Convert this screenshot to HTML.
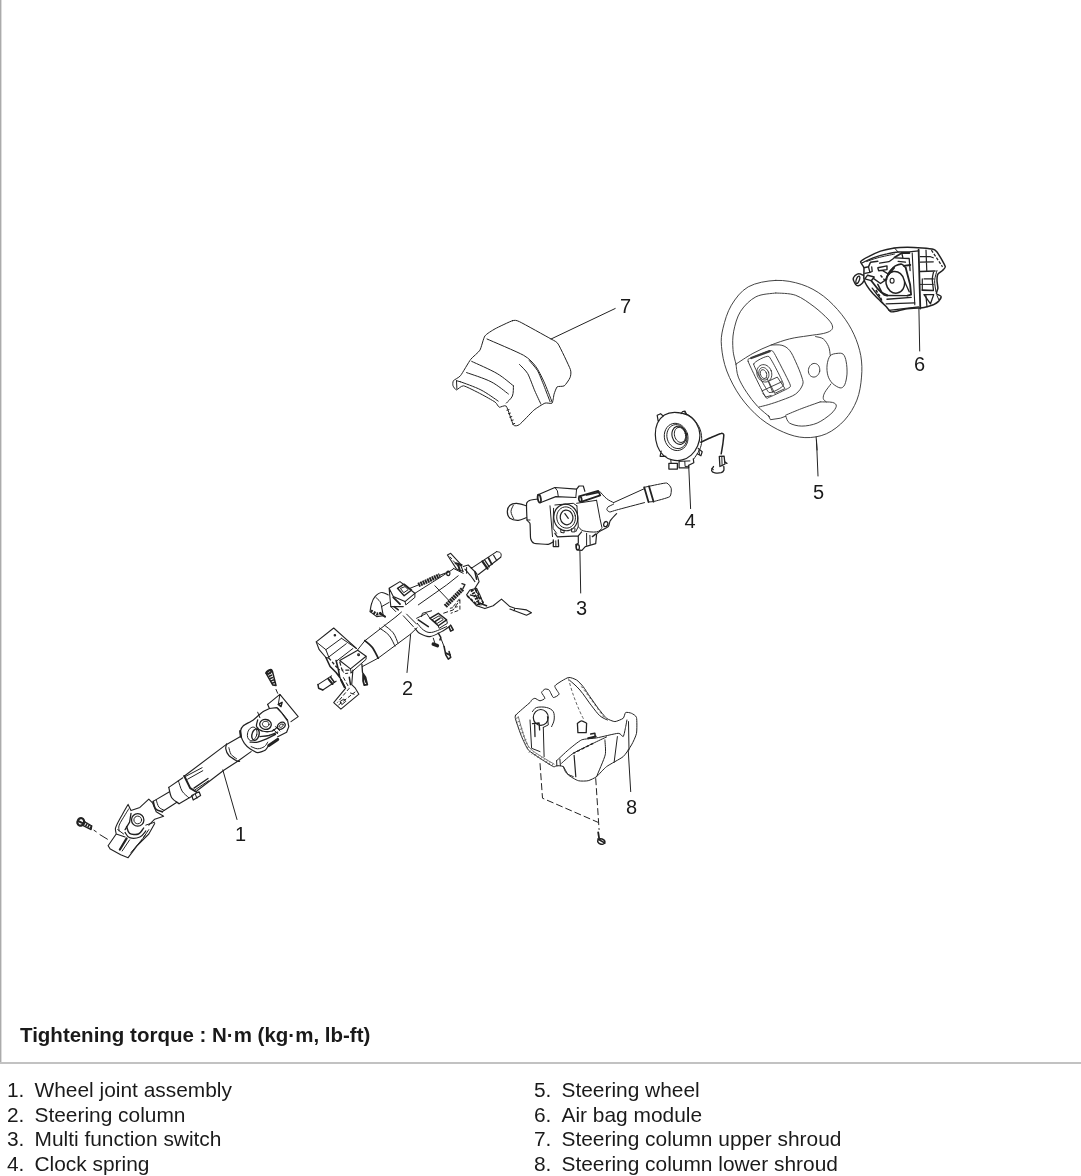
<!DOCTYPE html>
<html lang="en">
<head>
<meta charset="utf-8">
<title>Steering column components</title>
<style>
html,body{margin:0;padding:0;background:#fff;}
body{width:1081px;height:1176px;position:relative;overflow:hidden;font-family:"Liberation Sans",sans-serif;color:#1a1a1a;}
#frame{position:absolute;left:0;top:0;width:2px;height:1064px;background:linear-gradient(to right,#ababab 0,#ababab 1px,#dcdcdc 1px,#dcdcdc 2px);}
#rule{position:absolute;left:0;top:1062px;width:1081px;height:2px;background:#c2c2c2;}
#diagram{position:absolute;left:0;top:0;width:1081px;height:1062px;will-change:transform;opacity:.999;}
#diagram text{font-family:"Liberation Sans",sans-serif;fill:#1a1a1a;}
#torque{will-change:transform;opacity:.999;position:absolute;left:20.3px;top:1022.6px;font-size:20.5px;font-weight:bold;white-space:nowrap;line-height:24px;}
.col{will-change:transform;opacity:.999;position:absolute;top:1078px;font-size:20.9px;line-height:24.7px;white-space:nowrap;}
.col div{height:24.7px;}
.col span{display:inline-block;width:27.5px;}
#c1{left:6.5px;}
#c2{left:534.4px;}
</style>
</head>
<body>
<div id="frame"></div>
<svg id="diagram" width="1081" height="1062" viewBox="0 0 1081 1062" fill="none" stroke-linecap="round" stroke-linejoin="round">
<path stroke="#3a3a3a" stroke-width="0.95" fill="none" d="M775.8 280.4C766.9 280.8 755.7 282.7 748.3 286.8C740.9 291 735.6 298.3 731.4 305.2C727.2 312.1 724.7 321.3 723 328.2C721.4 335.1 720.8 339.4 721.5 346.5C722.1 353.7 723.6 362.6 726.8 371C730 379.4 735 389.1 740.6 397C746.2 404.9 753.4 412.6 760.5 418.5C767.7 424.3 776.1 429.1 783.5 432.2C790.9 435.4 797.8 437.3 804.9 437.6C812 437.9 819.7 436.7 826.3 433.8C833 430.8 839.6 425.6 844.7 420C849.8 414.4 854.1 407.2 856.9 400.1C859.7 393 860.9 384.5 861.5 377.1C862.2 369.7 862 362.9 860.8 355.7C859.5 348.6 857.1 341.2 853.9 334.3C850.7 327.4 846.7 320.8 841.6 314.4C836.5 308 829.9 301 823.3 296C816.6 291 809.7 287.1 801.8 284.5C793.9 281.9 784.7 280 775.8 280.4ZM775.8 293C772.5 293.6 761.8 293.7 755.9 296.8C750.1 299.8 744.3 305.6 740.6 311.3C736.9 317.1 735 324.8 733.7 331.2C732.4 337.6 732.6 344.1 733 349.6C733.3 355.1 735.5 361.7 736 364.1M775.8 293C779.1 293.3 789.3 293 795.7 295.3C802.1 297.6 808.7 302.8 814.1 306.7C819.4 310.7 824.8 315.8 827.9 319C830.9 322.2 831.9 324 832.4 325.9C833 327.8 832.4 329.2 830.9 330.5C829.4 331.7 827.1 332.6 823.3 333.5C819.4 334.4 813.6 334.9 808 335.8C802.3 336.7 795.7 337.3 789.6 338.9C783.5 340.4 777.3 342.6 771.2 345C765.1 347.4 758.7 350.2 752.9 353.4C747 356.6 738.8 362.3 736 364.1M736 364.1C736.4 366.3 736.5 372.4 738.3 377.1C740.1 381.9 743.5 387.6 746.7 392.4C749.9 397.3 753.6 402.1 757.4 406.2C761.3 410.3 767.7 415.2 769.7 416.9M768.2 415.4L770.5 419.7L780.4 418.2L785.8 416.2M785.8 416.2C786.4 417.3 786.9 421.4 789.6 423.1C792.3 424.7 797.2 426.1 801.8 426.1C806.4 426.1 812.3 425.1 817.1 423.1C822 421 827.7 416.7 830.9 413.9C834.1 411.1 836 408.1 836.3 406.2C836.5 404.3 835.1 403.1 832.4 402.4C829.8 401.7 822.2 402 820.2 401.9M785.8 415.1C788.4 414 796.1 410.7 801.8 408.5C807.6 406.3 817.1 403 820.2 401.9M771.2 345C773 345.1 778.9 344.4 781.9 345.3C785 346.2 787.3 347.6 789.6 350.4C791.9 353.1 793.7 357.4 795.7 361.8C797.8 366.3 800.7 373.3 801.8 377.1C803 381 803.6 382 802.6 384.8C801.6 387.6 799.2 391.4 795.7 394C792.3 396.5 786.5 398.3 781.9 400.1C777.3 401.9 772 403.5 768.2 404.7C764.3 405.8 760.5 406.6 759 407M815.6 336.6C816.9 337 821.1 337.2 823.3 338.9C825.4 340.5 827.5 343.9 828.6 346.5C829.8 349.2 829.9 353.5 830.2 354.9M830.2 355.7C831.8 353.8 834.9 353.7 837 353.4C839.2 353.2 841.6 352.8 843.2 354.2C844.7 355.6 845.6 358.5 846.2 361.8C846.9 365.2 847.2 370.3 847 374.1C846.7 377.9 845.8 382.5 844.7 384.8C843.5 387.1 842.1 388.1 840.1 387.9C838.1 387.6 834.5 385.3 832.4 383.3C830.4 381.2 828.8 378.7 827.9 375.6C827 372.6 826.7 368.2 827.1 364.9C827.5 361.6 828.5 357.6 830.2 355.7ZM830.9 384C829.9 385.4 826.1 390 824.8 392.4C823.5 394.9 823 397 823.3 398.6C823.5 400.2 825.8 401.4 826.3 401.9M819.7 371.2C819 375 816 377.6 812.9 377C809.8 376.5 807.8 373 808.5 369.3C809.2 365.5 812.2 362.9 815.3 363.5C818.4 364 820.3 367.5 819.7 371.2ZM748.3 361.8C746.9 358 749.2 359.1 751.3 358C753.5 356.9 767.4 351.3 769.7 350.8C772 350.4 772.3 350.2 774.3 353.4C776.3 356.7 788.1 379.8 789.6 383.3C791 386.7 790.8 386.5 788.8 387.9C786.8 389.2 772.1 396.2 769.7 397C767.3 397.9 767.2 399.8 765.1 396.3C763 392.8 749.6 365.7 748.3 361.8ZM753.6 364.1C753.6 361.7 766.9 355.1 768.9 356.5C770.9 357.9 783.5 382.4 783.5 384.8C783.5 387.2 770.9 393.8 768.9 392.4C766.9 391.1 753.6 366.5 753.6 364.1ZM771.2 370.8C772.9 375.4 771.2 380.3 767.4 381.7C763.6 383 759.1 380.4 757.4 375.8C755.8 371.2 757.5 366.4 761.3 365C765.1 363.6 769.6 366.2 771.2 370.8ZM768.5 372.1C769.7 375.4 768.6 378.9 766.1 379.8C763.5 380.7 760.5 378.8 759.3 375.5C758.1 372.1 759.1 368.7 761.7 367.7C764.2 366.8 767.3 368.8 768.5 372.1ZM766.4 373C767.3 375.4 766.7 377.8 765.1 378.4C763.6 379 761.6 377.5 760.7 375.1C759.8 372.7 760.4 370.3 762 369.8C763.6 369.2 765.6 370.7 766.4 373ZM768.9 381L777.3 377.1L785 388.6L775.1 393.2ZM766.6 377.1L772.8 392.4M762 390.9L781.9 381.7M762.8 393.2L765.9 397L771.2 395.5"/>
<path stroke="#3a3a3a" stroke-width="2.2" fill="none" d="M751.3 358L769.7 351.1"/>
<path stroke="#222" stroke-width="1.0" fill="none" d="M816.1 436.8L817.1 450M816.5 440L818 476M866.7 261.5C868.5 260.8 873.1 259 877.8 257.8C882.4 256.5 891.6 254.7 894.4 254.1M894.4 247.9L898.1 252M937 270.5C936.6 272.2 934.8 277.2 934.6 280.7C934.5 284.2 935.8 290 936 291.8M937 295.5L939 300.1M920.3 284.4L933.3 284.4M918.9 308.5L919.7 351M512.4 320.7C514.7 320.1 516 320 519.5 321.7C523.1 323.4 547.5 337 551.1 339C554.6 341.1 556.4 341.3 558.2 344.1C560 346.9 569.3 366.5 570.4 369.5C571.5 372.6 570.6 376.2 570 377.7C569.5 379.2 565.5 385 564.3 385.8C563.1 386.7 558.1 386.1 557.2 386.8C556.3 387.6 554.6 392.5 554.1 394C553.7 395.5 552.9 402.3 552.1 403.1C551.3 404 546.7 402.5 545 403.1C543.3 403.8 536.1 408.3 533.8 410.2C531.5 412.2 521.4 423.2 519.5 424.5C517.7 425.8 514.7 426.6 513.4 424.9C512.2 423.2 507.6 407.8 506.3 406.2C505 404.6 500.2 407.6 499.2 407.2C498.2 406.8 496.8 403.3 495.1 402.1C493.4 400.9 483.8 395.5 480.9 394C478 392.5 465.8 386.2 463.6 385.8C461.3 385.5 457.4 389.9 456.5 389.9C455.5 389.9 453.3 386.7 453 385.8C452.7 385 452.7 381.7 453.4 380.7C454.1 379.8 458.9 377.6 460.5 375.7C462.1 373.7 468.9 361.7 470.7 359.4C472.5 357 478.6 352.4 479.9 350.2C481.2 348.1 483.5 337.9 484.9 336C486.3 334 492.6 330.2 495.1 328.8C497.6 327.4 510.2 321.4 512.4 320.7ZM487 339C491.3 340.9 517.9 352.1 523.6 355.3C529.3 358.5 533.5 363.4 535.8 366.5C538.2 369.6 542.1 377.6 544 381.8C545.9 385.9 551.2 399.7 552.1 402.1M519.5 364.5C520.5 365.5 525.9 370.5 527.7 373.6C529.5 376.7 533.3 387.4 534.8 390.9C536.4 394.5 540.2 402.6 540.9 404.1M529.3 360.6C530.3 361.8 535.7 367.6 537.5 370.6C539.2 373.5 542.5 382.2 544 385.8C545.4 389.5 549.4 399.9 550.1 401.7M471.7 361.4C476 363.4 490.2 369.5 497.2 373.6C504.1 377.7 510.7 383.8 513.4 385.8M466.6 372.6C470.7 374.1 484.1 378.2 491.1 381.8C498 385.3 505.5 391.9 508.4 394M513.4 385.8C513.3 387.5 513.6 393.1 512.4 396C511.2 398.9 507.3 401.9 506.3 403.1M460.5 381.8C463.9 383.1 474.6 386.7 480.9 389.9C487.2 393.1 495.3 399.2 498.2 401.1M456.5 380.7L456.9 388.9M456.5 380.7L460.5 381.8M506.9 410.2L509 409.6M508.4 413.7L510.4 413.1M509.8 417.2L511.8 416.6M511.2 420.6L513.2 420M512.6 424.1L514.7 423.5M551.1 339L615.2 308.5M684.8 412.7C686.3 413.8 691.2 416.5 693.8 419.3C696.3 422.1 698.8 425.9 700.2 429.5C701.5 433.2 701.8 437.6 701.7 441C701.6 444.4 700.8 447 699.5 449.9C698.2 452.9 694.7 457.4 693.8 458.9M687.5 433.9C689.5 441.3 686 448.6 679.7 450.2C673.5 451.9 666.8 447.3 664.8 440C662.9 432.6 666.3 425.3 672.6 423.6C678.9 422 685.5 426.6 687.5 433.9ZM686.5 434C688.3 440.4 685.4 446.8 680.1 448.3C674.8 449.7 669.1 445.6 667.3 439.1C665.6 432.7 668.5 426.3 673.8 424.9C679.1 423.4 684.8 427.5 686.5 434ZM685.3 433.5C686.4 437.6 684.9 441.5 682 442.3C679.1 443.1 675.8 440.4 674.7 436.3C673.6 432.2 675.1 428.3 678 427.5C680.9 426.7 684.2 429.4 685.3 433.5ZM698.9 449.9L699.5 454.4M670.8 459.9L671.1 463.3M679.1 461.4L689.9 460.9M684.8 461.4L685.1 466.5L688 466.3M721.8 456.3L722.1 465.9M711.6 468.4L713.5 469.7M688.7 465.3L690.6 508.6M513.3 505.3C512.9 506.4 510.9 509.4 511 511.6C511 513.8 513.2 517.5 513.7 518.6M550 505.8L552.5 536.6M526.6 520L530 520M554.9 487.5L557.4 490.8L558.3 496.6M576.6 489.1L575.8 497.5M575.3 515.8C576.3 521.6 573 527.1 568 528C562.9 528.8 557.9 524.9 556.9 519.1C555.9 513.3 559.2 507.9 564.3 507C569.3 506.1 574.3 510 575.3 515.8ZM554.9 505L573.3 503.3L576.9 505.8M553.6 508.3L553 528.3L556.6 533.3M576.9 505.8L578.3 526.6L575.8 531.6M560.8 529.1L560.8 532.4L564.1 532.9L564.1 530.3M571.6 528.6L571.6 531.9L574.9 531.9L574.9 528.3M576.6 503.3L596.6 500.3M599.9 491.6C601 492.8 604.3 496.8 606.6 498.6C608.8 500.5 612.4 502 613.6 502.6M596.6 500.3L599.9 518.3L601.9 527.4M578.3 526.6C579.1 527.3 580.2 529.9 583.3 530.8C586.3 531.7 593.5 532.4 596.6 531.9C599.7 531.5 601 528.9 601.9 528.3M613.6 502.6L644.5 488.6M644.5 502.6C642.2 503.2 619.4 509.2 616.6 510C613.7 510.7 610.7 512 609.9 512C609.1 512 607.1 510.4 606.9 510C606.7 509.5 607.3 507.5 607.9 507C608.5 506.5 613.1 504.4 613.6 504.1M644.2 487.3L649 486.3M648.5 502L653.5 501.6M649 486.3C650.5 486 664.7 482.8 666.5 483C668.4 483.2 670.9 487.2 671.2 488.3C671.5 489.5 671.3 495.5 669.8 496.6C668.4 497.8 654.9 501.2 653.5 501.6M586.6 533.3L586.6 545.3M589.9 535.3L590.2 544.3M555.8 540.8L555.9 546.3M579.9 550.3L580.7 593M515.8 715C517.1 713.4 528.5 703.8 530 702.5C531.4 701.1 531.2 700.4 531.6 700C532.1 699.6 534.2 698.2 535 698.3C535.7 698.4 539 700.8 540 700.8C540.9 700.8 544.8 699.1 544.9 698.3C545.1 697.5 541.6 693.3 541.6 692.5C541.6 691.6 544.3 689.4 544.9 689.1C545.6 688.9 548.3 689.2 549.1 690C549.9 690.7 552.4 697.1 553.3 697.5C554.2 697.9 559 695.2 559.1 694.1C559.3 693.1 554.1 687.3 554.9 685.8C555.8 684.3 566.3 678 568.3 677.5C570.2 677 575.2 679.2 576.6 680C578 680.8 582 685.1 583.2 686.7C584.5 688.2 588.5 694.7 589.9 696.6C591.3 698.6 596.7 706.3 598.2 708.3C599.8 710.3 605 717.1 606.6 718.3C608.1 719.5 613.4 721.6 614.9 721.6C616.4 721.6 622.2 719.1 623.2 718.3C624.2 717.4 624.9 712.9 625.7 712.5C626.5 712 630.5 712.8 631.5 713.3C632.5 713.8 636.1 715.6 636.5 717.5C637 719.3 637 730.8 636.5 733.3C636.1 735.8 632.8 742.8 631.5 744.9C630.3 747.1 625.5 754.6 623.2 756.6C620.9 758.6 609 764.7 606.6 766.6C604.1 768.4 598.2 775.3 596.6 776.6C594.9 777.9 589.9 780.3 588.2 780.7C586.6 781.1 580.1 781.3 578.3 780.7C576.4 780.2 569.6 776.2 568.3 774.9C566.9 773.6 564.3 767.4 563.3 766.6C562.2 765.7 557.5 765.7 556.6 765.7C555.7 765.7 554.8 767.3 553.3 766.6C551.7 765.9 542.2 759.8 540 758.3C537.7 756.7 530 751.9 528.3 749.9C526.6 747.9 522.8 739.4 521.6 736.6C520.5 733.9 516.3 721.9 515.8 720C515.3 718 514.5 716.6 515.8 715ZM569.6 680.3C571.3 681.9 576.3 685.7 579.9 690C583.6 694.2 588.2 701.5 591.6 705.8C594.9 710.1 597.3 713.4 599.9 715.8C602.5 718.1 606.1 719.3 607.4 720M556.6 760.7C557.8 759.7 565.8 752 568.3 749.9C570.8 747.8 578.8 741.1 581.6 739.9C584.4 738.7 592.9 738.6 596.6 737.9C600.2 737.3 615.6 733.4 618.2 733.3C620.9 733.1 622.5 737.3 623.2 736.6C624 735.9 625.3 728.3 625.7 726.6C626.1 724.9 626.8 720.6 626.9 720M561.6 763.2C562.8 762.2 570.1 755.3 573.3 753.3C576.4 751.3 589.9 744.9 593.2 743.3C596.6 741.6 605.2 737.6 606.6 736.9M556.6 760.7L556.9 766.2M559.9 759.1L560.4 765.7M563.3 766.6C563.8 767.7 564.9 771.6 566.6 773.2C568.3 774.9 572.1 776 573.3 776.6M604.9 739.9C604.9 741.4 606.1 751.3 605.2 754.9C604.4 758.6 597.4 774.4 596.6 776.6M617.4 736.6L614.1 762.4M628.5 721.6L629 749.9M532.5 711.6C533.2 710.9 534.3 708.2 536.6 707.5C539 706.8 543.8 706.8 546.6 707.5C549.4 708.2 552 709.5 553.3 711.6C554.5 713.7 554.4 717.5 554.1 720C553.8 722.5 552 725.5 551.6 726.6M530 720L531.6 748.3L540 751.6M543.3 727.4L544.1 756.6M547.4 716.6L548.3 724.9L543.3 727.4M628.2 749.9L630.7 791.6M325.9 649.7L341.5 638.3M316.2 641.9L325.9 649.7L328.9 657.5M328.9 656.9L346.3 643.7M337.3 660.5L352.9 648.5M341.5 638.3L356.5 648.5M350.5 668.9L351.1 672.5L366.1 659.3L366.1 656.3M357.7 649.7L364.9 640.7L396.2 616.6M362.5 666.5L378.2 658.1L410.6 634.1M379.4 628C381 629.2 386.4 632.2 389 635.3C391.6 638.3 394 644.3 395 646.1M384.2 625C385.7 626.3 390.9 629.8 393.2 632.8C395.5 635.9 397.2 641.4 398 643.1M340.3 701.4L343.9 699L345.7 701.4L342.1 704.4ZM350.5 693L354.1 694.2M410.6 634.7L407 672.5M496.7 551.6C497.3 551.8 499.5 552 500.2 552.6C501 553.2 501.2 554.4 501.2 555.2C501.3 555.9 500.8 556.9 500.7 557.2M466.6 567.5L466.6 573.3M453.2 568.3L463.2 573.3M514.9 608.3L514 610.8M410 588.3L418.3 585M414.9 593.3L453.2 569.1M434.9 585.8L448.3 599.9M418.3 604.9L446.6 585L458.2 575.8M381.6 606.6L389.1 602.4M375.8 597.4C376.5 598.1 379 600.1 380 601.6C381 603.1 381.4 605.8 381.6 606.6M390.8 606.6L395.8 611.6M400.8 588.3L405 586.6L408.3 589.6L404.1 592.5ZM405 601.6L405.8 604.9L414.9 597.4L414.9 593.3M396.2 616.6L401.5 612M410.6 634L417.2 627.7M403.3 615.8L413.3 626.6M406.6 614.1L416.6 624.1M417.4 623.3C418.4 624.4 420.9 628.4 423.3 629.9C425.6 631.4 427.7 633 431.6 632.4C435.5 631.9 444.1 627.6 446.6 626.6M416.6 618.3L426.6 613.3L429.9 618.3M421.6 616.6L422.4 613.3L431.6 610.8M432.4 619.6L439.1 615.8L443.3 619.6L437.4 623.3ZM438.3 625.8L439.1 628.3L447.4 623.3L446.6 619.9M433.3 638.2L434.9 643.2M440.8 638.2L444.1 646.6M276 689.4L277.7 693.3M279.9 694.4L278.3 704.4M277.7 707.7L287.7 719.9M269 724.7C268.7 726.3 267 727.3 265.2 727C263.4 726.7 262.2 725.2 262.4 723.6C262.7 722 264.4 721 266.2 721.3C268 721.6 269.3 723.2 269 724.7ZM283.1 724.4C283.5 725 283 726.1 282 726.8C281 727.5 279.9 727.6 279.4 727C279 726.4 279.5 725.3 280.5 724.6C281.5 723.9 282.7 723.8 283.1 724.4ZM256.7 735C255.7 738.7 252.9 741.1 250.4 740.5C247.9 739.8 246.7 736.3 247.7 732.6C248.7 728.9 251.5 726.5 254 727.2C256.4 727.8 257.7 731.4 256.7 735ZM251.1 746.6C252.2 747 255.5 748.8 257.7 748.8C259.9 748.8 262.7 747.7 264.4 746.6C266 745.5 267.2 742.9 267.7 742.1M275.5 726.6L279.9 731M273.3 729.4L277.7 733.8M257.7 712.2L259.9 717.7M228.9 747.7C229.2 748.8 229.8 752.5 231.1 754.4C232.4 756.2 235.7 758.1 236.6 758.8M222.8 769.9L237 819.5M94 830.3L96.3 831.8M100 834.7L107.4 839.2M122.2 851L129.6 839.9M131 852.5L142.9 838.4L148.8 829.6M119.2 831C119.2 830.1 118.2 827.8 119.2 825.1C120.2 822.4 123.5 817.5 125.1 814.8C126.7 812.1 128.2 809.8 128.8 808.8M117.7 829.6L123.6 834M141.6 819.9C141.6 822.1 139.8 823.8 137.7 823.8C135.6 823.8 133.9 822.1 133.9 819.9C133.9 817.8 135.6 816.1 137.7 816.1C139.8 816.1 141.6 817.8 141.6 819.9ZM145.8 825.1L154.7 822.2M156.2 800C156.7 801.1 157.5 805.3 158.9 807.1C160.2 808.8 163.4 809.8 164.3 810.3M178.4 780.7C179 782.4 180.4 788.2 182.1 791.1C183.8 793.9 187.7 796.6 188.8 797.7M185.8 776.3L202.1 767.7M187.6 779.2L202.8 770.7M195.4 789.6L208.8 780.7M195.4 794.3L196.9 798.2"/>
<path stroke="#222" stroke-width="1.5" fill="none" d="M860.6 261.7C861.1 260.6 866.5 257.7 868.5 256.7C870.5 255.6 877.9 252 880.5 251.1C883.1 250.2 891.7 248.3 894.4 247.9C897.1 247.5 904.6 247.2 907.4 247.2C910.1 247.2 919.6 247.7 922.2 247.9C924.7 248.1 931.8 248.8 933.3 249.3C934.7 249.7 936.1 251 937 252C937.8 253 940.7 257.9 941.6 259.4C942.4 260.9 945.2 265.7 945.3 266.8C945.4 267.9 943.2 269.8 942.5 270.5C941.8 271.3 938.4 273.2 937.9 274.2C937.3 275.2 937 279.3 937 280.7C937 282.1 937.9 286.8 937.9 288.1C937.8 289.4 936.2 292.8 936.5 293.7C936.8 294.5 940.9 295.7 941.1 296.4C941.4 297.2 939.6 300.2 938.8 301.1C938 301.9 934.7 304.1 933.3 304.8C931.8 305.4 925.5 307.2 924 307.5C922.5 307.9 920.3 307.9 918.5 308C916.6 308.1 907.7 308.6 905.5 308.9C903.3 309.2 897.7 311 896.3 311.2C894.8 311.5 891.7 312.2 890.7 311.7C889.7 311.2 887.1 307.7 886.1 306.6C885.1 305.5 881.8 302.3 880.5 301.1C879.2 299.8 874.5 295.2 873.1 293.7C871.7 292.1 867.6 286.8 866.7 285.3C865.7 283.8 864.2 280.6 863.9 278.9C863.6 277.1 864.2 269.5 863.9 267.8C863.6 266 860.2 262.8 860.6 261.7ZM904.4 280.8C905.5 286.7 902.3 292.2 897.2 293.1C892.2 294 887.3 289.9 886.2 284C885.2 278 888.4 272.5 893.4 271.6C898.5 270.7 903.4 274.8 904.4 280.8ZM863.9 267.8L868.5 266.8L870.5 262.2L877.8 261.3M877.8 284.4L881.6 291.8M863.9 275.6C863.3 275.4 860.2 273.8 859.3 273.8C858.3 273.7 856.3 274.6 855.6 275.2C854.8 275.7 853.2 277.8 853.2 278.9C853.2 279.9 855 283.6 855.6 284.4C856.1 285.2 857.6 285.9 858.3 285.8C859.1 285.7 861.4 284.1 862 283.5C862.7 282.9 863.7 281 863.9 280.7M700.8 442.3C701.9 441.8 709.6 438.1 711.6 437.2C713.7 436.3 720 433.6 721.2 433.4C722.4 433.1 723.6 433.9 723.8 434.9C723.9 435.9 723.1 441.7 722.9 443.6C722.6 445.5 721.4 452.8 721.2 453.8M586.6 495L598.2 492.5M590.7 734.1L594.9 733.3L595.2 736.6M604.7 842.8C604.2 844.1 602.2 844.7 600.3 844C598.4 843.3 597.3 841.6 597.8 840.3C598.3 838.9 600.2 838.3 602.1 839C604 839.7 605.2 841.4 604.7 842.8ZM597.9 839L604.9 843.2M318 684.6L318.6 688.2L322.8 690M330.7 677.3L334.3 682.2M349.3 677.3L350.5 684.6M394.1 606.6L398.3 609.9M434.9 621.6L439.9 618.3M438.3 633.2L440.8 637.4L439.9 639.9M266 673.1L269.9 670.2L272.4 671.3L276 685.5L272.7 684.9ZM278.3 704.4L282.1 702.4L281 706.6Z"/>
<path stroke="#222" stroke-width="1.3" fill="none" d="M862 262.9C863.9 262.1 869 259.3 873.1 257.8C877.3 256.3 882.8 254.8 887 253.9C891.2 252.9 894.4 252.4 898.1 252C901.8 251.7 907.4 251.9 909.2 251.8M909.2 251.8L918.6 250.9M920.3 271.5L935.1 271M933.7 271.5C933.5 272.7 932.4 275.8 932.3 278.9C932.3 281.9 933.3 288.1 933.4 290M924 294.6L933.7 294.6L930.5 303.8ZM901.8 253L902.9 257.8M895.3 257.8L909.2 258.5L910.1 270.5M898.1 261.3L905.5 262.2M904.6 281.6L909.2 291.8M887 295.5L907.4 295.7M868.5 266.8L869.9 272.4L872.2 271.5L871.7 266.8M879.6 263.1L888.9 261.7L893.5 258.5M872.2 288.1L877.8 295.5L881.5 300.1M859.3 280.3C858.6 282.3 857.4 283.7 856.5 283.4C855.7 283.1 855.7 281.3 856.4 279.2C857.1 277.2 858.4 275.8 859.2 276.1C860 276.4 860.1 278.3 859.3 280.3ZM668.9 463.3L677.4 463.3L677.4 469.1L668.9 469.1ZM719.3 456.3L724.1 456.1L725 464L719.9 466.5ZM723.8 466.5C723.8 467.2 724.2 469.3 723.8 470.4C723.3 471.4 722.7 472.2 721.2 472.7C719.7 473.1 716.4 473.2 714.8 472.9C713.2 472.6 711.8 471.7 711.6 470.6C711.4 469.5 713.2 467.2 713.5 466.5M607.6 524.8C607.1 526.2 605.9 527 604.8 526.6C603.8 526.2 603.4 524.8 603.9 523.4C604.4 522.1 605.6 521.2 606.6 521.6C607.7 522 608.1 523.4 607.6 524.8ZM553.3 539.9L553.3 546.6L558.6 546.6L558.3 539.9M579.4 547.3C579.4 548.7 578.7 549.9 577.8 549.9C576.8 549.9 576.1 548.7 576.1 547.3C576.1 545.8 576.8 544.6 577.8 544.6C578.7 544.6 579.4 545.8 579.4 547.3ZM534.6 723.3L535 736.6M532.5 723.6L539.1 723L539.6 729.9M577.4 723.3L577.9 732.6L586.2 732.6L586.6 723.3M577.4 723.3C578.1 722.9 580.1 720.8 581.6 720.8C583.1 720.8 585.7 722.9 586.6 723.3M361.9 664.1L362.5 672.5M484.7 560.1L489.3 566.9M462.9 588.6L464.9 584.6L461.9 583.6M271.2 725.4C270.7 728.1 267.8 729.9 264.6 729.3C261.5 728.8 259.3 726.1 259.8 723.4C260.3 720.7 263.2 718.9 266.4 719.5C269.5 720 271.7 722.7 271.2 725.4ZM284.7 723.3C285.7 724.7 284.9 726.9 283 728.3C281.1 729.6 278.8 729.5 277.8 728.1C276.8 726.7 277.6 724.5 279.5 723.2C281.4 721.8 283.7 721.9 284.7 723.3ZM257.7 719.9C257.5 721.1 255.9 724.8 256.6 726.6C257.4 728.5 259.6 730.3 262.2 731C264.8 731.8 269.6 731.8 272.2 731C274.7 730.3 276.8 727.3 277.7 726.6M259.9 736.6C261.4 736.4 265.9 736.2 268.8 735.5C271.8 734.7 276.2 732.7 277.7 732.2M250 742.1C251.2 742.1 254.9 742.7 257.7 742.1C260.5 741.6 263.6 740.1 266.6 738.8C269.6 737.5 274 735.1 275.5 734.4M143.9 819.9C143.9 823.4 141.1 826.2 137.7 826.2C134.3 826.2 131.5 823.4 131.5 819.9C131.5 816.5 134.3 813.7 137.7 813.7C141.1 813.7 143.9 816.5 143.9 819.9ZM131 813.3L129.6 822.2L125.1 829.6M194 788.1L208 778.5"/>
<path stroke="#222" stroke-width="1.1" fill="none" d="M912.2 253L914.8 304.8M894.1 280.7C894.1 282 893.2 283.1 892.1 283.1C891 283.1 890.1 282 890.1 280.7C890.1 279.4 891 278.3 892.1 278.3C893.2 278.3 894.1 279.4 894.1 280.7ZM685.9 433.5C687.2 438.4 685.2 443.1 681.5 444.2C677.7 445.2 673.6 442 672.3 437.1C671 432.2 673 427.4 676.7 426.4C680.5 425.4 684.6 428.6 685.9 433.5ZM316.2 641.9L333.7 628L356.5 648.5M316.2 641.9L319.2 649.7L325.9 657.5L328.9 658.1M339.7 660.5L357.7 650.3L366.1 656.3L350.5 668.9ZM318 684.6L331.5 675.9M322.8 690L336.1 681.2M339.7 677.3L345.7 688.2L333.7 702.6L340.9 709.2L358.9 694.2L355.3 688.2L351.7 684.6L352.9 670.1M471.2 568.4L496.7 551.6M478.4 574.5L500.7 557.2M447.4 555L450.7 553.3L459.9 563.3L463.2 571.6L456.6 569.1ZM463.2 566.6L468.2 565L476.6 573.3L479.1 581.6L474.9 588.3M464.9 569.1L470.7 575.8L474.9 581.6M466.6 594.9L469.9 590L476.6 588.3L479.9 594.9L483.2 603.3L476.6 604.9M466.6 594.9L476.6 605.8L484.9 608.6L493.2 605.8L501.5 599.1L509.9 606.6L514.9 608.3L526.5 609.9L531.5 612.8L526.5 615.3L509.9 609.1M370 611.6C370.3 610.2 370.8 605.8 371.7 603.3C372.5 600.8 373.3 598.4 375 596.6C376.7 594.8 379.4 592.7 381.6 592.5C383.9 592.2 387.2 594.5 388.3 594.9M370 611.6L376.7 616.6L383.3 615.8L381.6 606.6M389.1 588.3L400 581.6L414.9 593.3L405 601.6L393.3 596.6ZM389.1 588.3L390.8 606.6L403.3 606.6M414.9 628.3C415.8 629.1 417.4 632.2 419.9 633.6C422.4 635 426 637 429.9 636.6C433.8 636.1 439.8 632.6 443.3 630.7C446.7 628.9 449.5 626.2 450.7 625.3M267.7 704.4L279.9 694.4L298.2 716.6L291 721.6M240.5 736.6L225.7 744.9L184.1 776.3M251.1 751.6L237.7 761.3L223.8 770.3L197 790.7M108.1 845.8L116.2 834L125.1 837M108.1 845.8L110.3 849.1L120.7 854.7L128.1 857.7M128.1 857.7L137 845.8L148.8 834L154.7 823.6M116.2 834C116.2 833.5 115 829.7 115.5 828.1C116 826.5 121.1 816.7 122.2 814.8C123.2 812.8 127.6 805.3 128.1 804.4M128.1 804.4L131 810.6L139.9 807.4L148.8 799.2L152.5 802.9M152.5 802.9L156.2 811.8L163.6 816.2L154.7 819.2L148.8 825.1M153.2 801.4L169.5 791.8M162.1 811.8L176.9 802.2M168.8 787.4L182.8 777.8M179.1 803.7L193.2 795.5"/>
<path stroke="#222" stroke-width="1.8" fill="none" d="M918.6 249.7L920.3 308.5M894.4 257.6L901.8 253L909.4 253M903.7 265.9L910.3 265M905.7 267.8L910.1 284.4L911.1 294.6L907.4 295.7M871.3 280.7L877.8 289L884.2 294.8L887.2 295.5M540.8 498.4C541.2 500.6 540.8 502.4 540 502.6C539.2 502.7 538.2 501.1 537.8 498.9C537.4 496.7 537.8 494.8 538.6 494.7C539.4 494.6 540.4 496.2 540.8 498.4ZM579.1 496.3L598.2 490.8L600.2 495.3L581.9 501.6M581.6 498.9C581.8 500.4 581.5 501.8 580.8 501.9C580 502.1 579.2 500.9 578.9 499.4C578.7 497.8 579 496.5 579.8 496.4C580.5 496.2 581.3 497.4 581.6 498.9ZM644.2 487.3L648.5 502M649 486.3L653.5 501.6M598.2 832.3L599.1 838.2M364.9 640.7C366.1 641.8 370 644.4 372.2 647.3C374.4 650.2 377.2 656.3 378.2 658.1M363.1 673.7L365.5 677.3L367.3 684.6L364.3 685.2L363.1 681L363.1 673.7M364.3 677.3L366.1 682.2M488.5 558L491.8 564.3M393.3 597.4L400 604.1M445.8 653.2L449.9 654.9M271.7 670.2C272.1 670.9 271.3 672.2 269.8 673C268.3 673.9 266.8 674 266.4 673.3C266 672.6 266.8 671.4 268.3 670.5C269.8 669.7 271.3 669.5 271.7 670.2Z"/>
<path stroke="#222" stroke-width="1.2" fill="none" d="M920.3 256.7L930.5 256.7L933.3 257.8M920.3 262.2L933.3 261.8M926 250L926.8 271.5M924 278.9L933.3 278.9M922.3 278.9L922.3 290M925.9 295.5L927 306.8M885.2 280.7C885.8 279.3 887.5 274.5 888.9 272.4C890.2 270.2 892.7 268.5 893.5 267.8M886.1 303.8L914.8 302.9M888.9 310.3L918.6 306.8M864.8 273.3L869.9 272.4M674.6 412.3C670.8 412.3 667.3 413.1 664.4 414.9C661.6 416.7 659 419.9 657.4 423.2C655.9 426.5 655.3 430.8 655.3 434.6C655.3 438.5 656.1 442.7 657.4 446.1C658.7 449.5 660.7 452.8 663.2 455.1C665.6 457.3 668.9 459.1 672.1 459.9C675.3 460.7 679.1 460.7 682.3 459.9C685.5 459.1 688.7 457.3 691.2 455.1C693.8 452.8 696.2 449.5 697.6 446.1C699 442.7 700.1 438.5 699.9 434.6C699.7 430.8 698.4 426.5 696.3 423.2C694.2 419.9 691 416.7 687.4 414.9C683.8 413.1 678.5 412.3 674.6 412.3ZM658.3 421.9L657.2 415.3L660.6 413.7L663.4 416.1M681 413.6L682.6 411.7L685.1 411.2L686.8 414.9M661.2 451L660.1 456.3L666 456.3M698.2 448.4L702.2 451.7L700.9 455.8L697.3 453.8M679.1 461.4L679.1 467.8L688.7 467.8L688.7 465.3L693.8 462.7L693.3 458.9M526.6 505.8C525 505.4 519.4 503.4 516.7 503.3C513.9 503.2 511.5 503.9 510 505.3C508.4 506.7 507.3 509.5 507.3 511.6C507.3 513.8 508.2 516.8 510 518.3C511.8 519.7 515.5 520.4 518.3 520.3C521.1 520.1 525.3 517.9 526.6 517.5M537.5 499.1C536.9 499.2 531.7 499.6 530.8 500C529.9 500.3 526.9 501.6 526.6 503.3C526.3 505 526.9 518.3 527.1 520C527.4 521.6 529.7 522.1 530 523.6C530.3 525.1 530.3 536.6 530.6 538.3C531 539.9 532.7 542.8 534.1 543.3C535.6 543.8 546.7 544.4 548.3 544.3C549.9 544.1 553.2 541.8 553.6 541.6M537.5 495L554.9 487.5L576.6 489.1L579.1 486L583.3 486L584.9 491.3M540.8 502.5L555.8 496.6L575.8 497.5M577.6 515.4C578.9 522.6 574.6 529.4 568.1 530.6C561.6 531.7 555.2 526.8 554 519.5C552.7 512.3 556.9 505.5 563.5 504.3C570 503.2 576.3 508.1 577.6 515.4ZM572.8 516.4C573.5 520.3 571.3 524.1 567.9 524.7C564.4 525.3 561.1 522.5 560.4 518.6C559.7 514.6 561.9 510.8 565.3 510.2C568.8 509.6 572.1 512.4 572.8 516.4ZM564.9 513.6L568.3 518.3M616.6 513.6C615.9 514.3 611.1 519.5 610.2 520.8C609.4 522.1 609.3 525.6 608.2 526.6C607.2 527.7 601 530.6 599.9 531.3C598.8 531.9 597.7 533.1 597.4 533.3M554.9 533.3L557.4 536.9L578.3 535.9L581.6 531.9M578.3 535.9L578.3 543.3L575.8 544.6L576.9 549.9L581.9 550.3L585.3 546.6L595.7 543.6L596.6 534.1M574.1 755.3L575.8 776.6M548.3 717.5C548.3 721.9 544.9 725.4 540.8 725.4C536.6 725.4 533.3 721.9 533.3 717.5C533.3 713 536.6 709.5 540.8 709.5C544.9 709.5 548.3 713 548.3 717.5ZM335.6 635.3C335.6 635.7 335.3 636 334.9 636C334.5 636 334.2 635.7 334.2 635.3C334.2 634.9 334.5 634.5 334.9 634.5C335.3 634.5 335.6 634.9 335.6 635.3ZM359.4 654.7C359.4 655.2 359 655.6 358.6 655.6C358.1 655.6 357.7 655.2 357.7 654.7C357.7 654.3 358.1 653.9 358.6 653.9C359 653.9 359.4 654.3 359.4 654.7ZM493.6 555.2L496.7 560.5M439.9 575.3L448.3 572M449.9 573.3C449.9 574.6 449.2 575.6 448.3 575.6C447.3 575.6 446.6 574.6 446.6 573.3C446.6 572 447.3 571 448.3 571C449.2 571 449.9 572 449.9 573.3ZM267.7 704.4L269.4 708.5L276.6 707.7L282.1 713.3L287.7 721.1L288.8 726.6L286.6 732.2L277.7 736.8M269.4 708.5C268.7 708.9 263.8 711 262.2 712.2C260.6 713.3 255.2 718.6 253.3 719.9C251.4 721.3 244.6 724.6 243.3 725.7C242 726.8 240.7 730 240.5 731C240.3 732.1 240.7 735.4 241.1 736.6C241.5 737.8 243.5 742 244.4 743.3C245.3 744.5 248.6 747.9 250 748.8C251.3 749.8 256.2 752.6 257.7 752.7C259.3 752.8 264.4 750.6 265.5 749.9C266.6 749.2 267.6 746.6 268.8 745.5C270 744.4 276.8 739.7 277.7 739M226.6 743.8C226.5 744.6 225.4 746.9 225.8 748.8C226.1 750.7 227 753.4 228.9 755.5C230.8 757.5 235.8 760.3 237.2 761.2M83.4 821L91.8 825.9L91.1 829.6L82.2 825.1M125.1 832.5C125.9 833.4 127.1 837 129.6 837.7C132 838.4 137.2 838.1 139.9 837C142.6 835.9 144.9 832 145.8 831M168.8 787.4C169.3 789.1 170 795 171.7 797.7C173.5 800.5 177.9 802.7 179.1 803.7M191.7 795.5L199.1 791.8L200.6 795.5L193.2 800Z"/>
<path stroke="#222" stroke-width="1.6" fill="none" d="M922.2 290.1L933.3 290.5M887 277C887.6 275.9 889.3 272.4 890.7 270.5C892.1 268.7 893.5 267 895.3 265.9C897.2 264.9 900.1 263.9 901.8 264.2C903.5 264.5 905 267.2 905.7 267.8M325.9 657.5L330.1 666.5L336.1 672.5L339.7 677.3M336.1 660.5L338.5 670.1L339.7 677.3M474.9 571.6L476.6 579.1M479.9 603.3L486.5 605.8M450.7 625.3L453.2 629.9L450.7 631.1L449.1 627.4M418.3 619.9L428.3 626.6M444.1 646.6L445.8 654.9L448.3 659.1L450.7 657.4L449.1 651.6M237.2 761.2L239.4 761.2M153.2 801.4C153.6 802.7 154 807.1 155.5 808.8C156.9 810.6 161 811.3 162.1 811.8"/>
<path stroke="#222" stroke-width="1.2" fill="none" stroke-dasharray="3 1.5" stroke-linecap="butt" d="M931.4 250.2L942.5 266.8"/>
<path stroke="#222" stroke-width="1.4" fill="none" d="M887 299.2L911.1 297.4M877.8 267.8L887 265.9L887 269.6L878.7 270.7ZM864.8 278.9L871.3 280.7L874.2 277L867.6 275.2ZM874.1 278.9L880.5 283.5L887 278.9M880.5 291.8L887 294.8M882.4 270.5L888.9 274.4L894.4 267.8M725 462.1L726.9 463.3M592.4 536.6L595.7 534.1M397.5 588.3L404.1 584.1L411.6 590L404.1 595.8ZM429.9 618.3L438.3 613.3L446.6 619.9L438.3 625.8ZM258.9 735.5C258.1 738.6 255.9 740.7 254 740.2C252.1 739.7 251.2 736.8 252.1 733.7C252.9 730.6 255.1 728.5 257 729C258.9 729.5 259.8 732.4 258.9 735.5ZM126.6 826.6C127.1 827.7 127.6 832 129.6 833.3C131.5 834.5 136.1 834.9 138.4 834C140.8 833.1 142.8 829.1 143.6 828.1"/>
<path stroke="#222" stroke-width="1.6" fill="none" stroke-dasharray="3 1.5" stroke-linecap="butt" d="M875.9 290L880.5 297.4L882.6 302.9M475.3 588.8L483.4 603"/>
<path stroke="#222" stroke-width="1.4" fill="none" stroke-dasharray="3 1.5" stroke-linecap="butt" d="M880.5 275.2L885.2 280.7"/>
<path stroke="#555" stroke-width="0.9" fill="none" stroke-dasharray="3 2" stroke-linecap="butt" d="M568.3 678.3C569.1 681.1 571.3 689.4 573.3 695C575.2 700.5 578.1 707.5 579.9 711.6C581.7 715.8 583.4 718.6 584.1 720"/>
<path stroke="#555" stroke-width="0.8" fill="none" d="M581.2 686.7L582.9 687.8M583.9 690.3L585.6 691.5M586.6 694L588.2 695.1M589.2 697.6L590.9 698.8M591.9 701.3L593.6 702.5M594.6 705L596.2 706.1M597.2 708.6L598.9 709.8M599.9 712.3L601.6 713.5M602.6 716L604.2 717.1M516.3 718.3L518 717.6M517.6 722L519.3 721.3M519 725.6L520.6 724.9M520.3 729.3L522 728.6M521.6 732.9L523.3 732.3M523 736.6L524.6 735.9M524.3 740.3L526 739.6M525.6 743.9L527.3 743.3M527 747.6L528.6 746.9M529.1 752.4L530.1 750.9M532 754.1L533 752.6M534.8 755.8L535.8 754.3M537.6 757.4L538.6 755.9M540.5 759.1L541.5 757.6M543.3 760.7L544.3 759.3M546.1 762.4L547.1 760.9M548.9 764.1L549.9 762.6M551.8 765.7L552.8 764.2M518.3 716.6C519.3 720 522.2 731.3 524.1 736.6C526.1 741.9 527 744.9 530 748.3C532.9 751.6 537.6 754 541.6 756.6C545.6 759.2 552 762.8 554.1 764.1"/>
<path stroke="#222" stroke-width="1.4" fill="none" stroke-dasharray="3 2" stroke-linecap="butt" d="M593.2 743.3L573.3 753.3M328.9 658.1L336.1 666.5L339.7 670.1"/>
<path stroke="#222" stroke-width="2" fill="none" d="M588.2 738.3L595.7 736.6M328.3 678.8L332.5 684M340.9 679.8L344.5 687M455.7 563.3L461.6 565M458.2 565L459.9 570.8M380 613.3L385 616.6M78.1 821L83.1 823.3M184.3 776L190.2 788.1L196.5 792"/>
<path stroke="#222" stroke-width="1.0" fill="none" stroke-dasharray="7 3" stroke-linecap="butt" d="M540 763.2L542.5 798.2L598.2 822.4M595.7 778.2L599.1 829.9"/>
<path stroke="#222" stroke-width="1.2" fill="none" stroke-dasharray="4 2" stroke-linecap="butt" d="M339.7 661.7L342.1 670.1L350.5 670.1"/>
<path stroke="#222" stroke-width="1.0" fill="none" stroke-dasharray="3 2" stroke-linecap="butt" d="M342.1 670.1L344.5 673.7L352.9 672.5M449.9 556.7L458.2 566.6M449.9 608.3L458.2 606.6"/>
<path stroke="#222" stroke-width="1.0" fill="none" stroke-dasharray="4 2" stroke-linecap="butt" d="M343.3 677.3L349.3 688.2L337.3 702.6M338.5 705L355.3 691.8M453.2 606.6L459.9 598.3L459.9 609.9L450.7 613.3M139.9 842.9L145.8 834"/>
<path stroke="#222" stroke-width="2.2" fill="none" d="M482.4 561.3L487.5 568.6M240.2 731L240.9 736.6M83.8 823C83.1 825 81.1 826.1 79.4 825.5C77.7 824.9 76.9 822.8 77.7 820.8C78.4 818.8 80.3 817.6 82 818.3C83.7 818.9 84.5 821 83.8 823ZM119.9 849.5L126.6 838.4"/>
<path stroke="#222" stroke-width="3.2" fill="none" stroke-dasharray="1.8 1.2" stroke-linecap="butt" d="M471.7 589.8L480.4 606.1"/>
<path stroke="#222" stroke-width="1.8" fill="none" stroke-dasharray="3 1.5" stroke-linecap="butt" d="M467.2 595.9L477.3 605"/>
<path stroke="#222" stroke-width="1.3" fill="none" stroke-dasharray="4 2" stroke-linecap="butt" d="M469.9 594.9L476.6 596.6L479.9 606.6"/>
<path stroke="#222" stroke-width="1.6" fill="none" stroke-dasharray="5 2" stroke-linecap="butt" d="M474.9 588.3L479.9 599.9"/>
<path stroke="#222" stroke-width="4.4" fill="none" stroke-dasharray="1.9 0.6" stroke-linecap="butt" d="M418.3 585L439.9 575.3M445.3 606.3L462.9 588.6"/>
<path stroke="#222" stroke-width="3" fill="none" stroke-dasharray="2 1.2" stroke-linecap="butt" d="M370.8 610.8L376.7 614.1L381.6 613.3"/>
<path stroke="#222" stroke-width="1.0" fill="none" stroke-dasharray="5 2" stroke-linecap="butt" d="M443.3 613.3L453.2 609.9L459.9 599.9"/>
<path stroke="#222" stroke-width="3.5" fill="none" d="M433.3 644.1L437.4 645.7"/>
<path stroke="#222" stroke-width="3.6" fill="none" stroke-dasharray="1.6 0.9" stroke-linecap="butt" d="M269 672.8L274.2 684.6"/>
<path stroke="#222" stroke-width="3" fill="none" d="M268.8 745.5L277.7 739.4"/>
<path stroke="#222" stroke-width="4" fill="none" stroke-dasharray="1.6 0.9" stroke-linecap="butt" d="M83.7 822.9L91.4 827.5"/>
<text x="818.6" y="499.2" font-size="20" text-anchor="middle" font-weight="normal">5</text>
<text x="919.6" y="371" font-size="20" text-anchor="middle" font-weight="normal">6</text>
<text x="625.5" y="312.5" font-size="20" text-anchor="middle" font-weight="normal">7</text>
<text x="690" y="527.5" font-size="20" text-anchor="middle" font-weight="normal">4</text>
<text x="581.5" y="615" font-size="20" text-anchor="middle" font-weight="normal">3</text>
<text x="631.5" y="813.5" font-size="20" text-anchor="middle" font-weight="normal">8</text>
<text x="407.5" y="694.5" font-size="20" text-anchor="middle" font-weight="normal">2</text>
<text x="240.5" y="840.5" font-size="20" text-anchor="middle" font-weight="normal">1</text>
</svg>
<div id="torque">Tightening torque : N·m (kg·m, lb-ft)</div>
<div id="rule"></div>
<div class="col" id="c1">
<div><span>1.</span>Wheel joint assembly</div>
<div><span>2.</span>Steering column</div>
<div><span>3.</span>Multi function switch</div>
<div><span>4.</span>Clock spring</div>
</div>
<div class="col" id="c2">
<div><span>5.</span>Steering wheel</div>
<div><span>6.</span>Air bag module</div>
<div><span>7.</span>Steering column upper shroud</div>
<div><span>8.</span>Steering column lower shroud</div>
</div>
</body>
</html>
